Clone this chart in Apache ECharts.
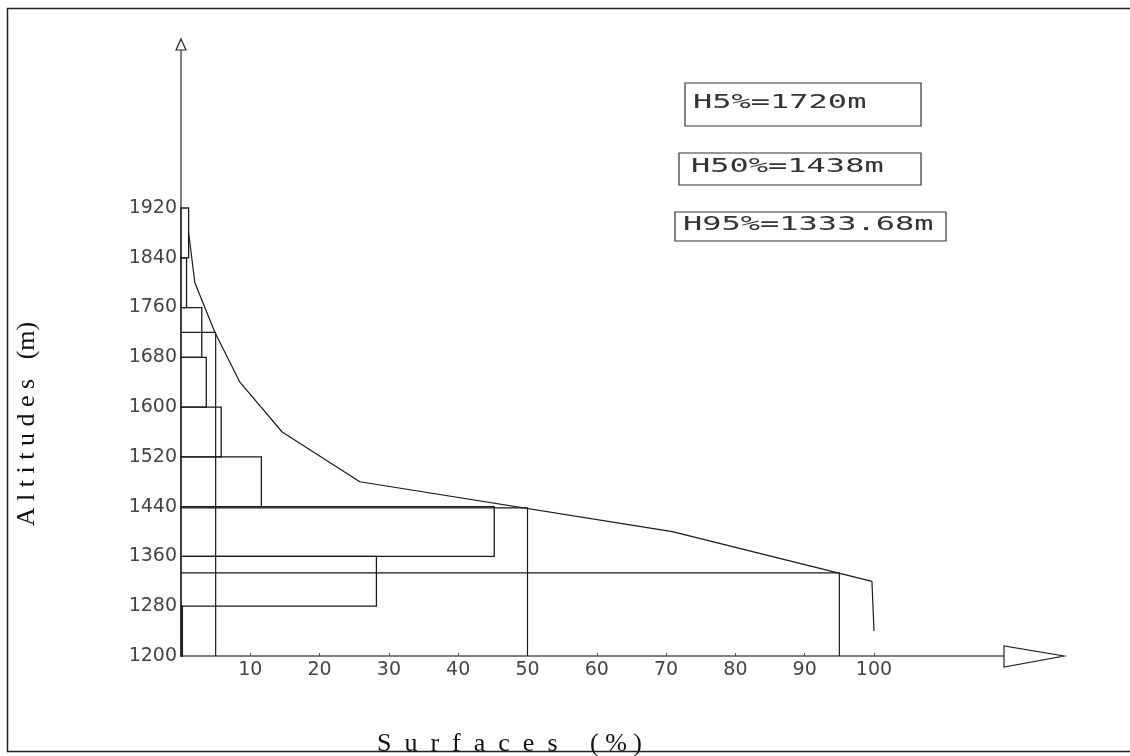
<!DOCTYPE html>
<html>
<head>
<meta charset="utf-8">
<title>Courbe hypsométrique</title>
<script src="https://cdn.jsdelivr.net/npm/echarts@6/dist/echarts.min.js"></script>
<style>
  html, body { margin: 0; padding: 0; background: #fff; }
  #main { width: 1130px; height: 756px; }
</style>
</head>
<body>
<div id="main"></div>
<script>
// tranches d'altitude (bas de chaque tranche) et surface en %
var binLow = [1200, 1280, 1360, 1440, 1520, 1600, 1680, 1760, 1840];
var binStep = 80;
var binPct = [0.2, 28.2, 45.2, 11.6, 5.8, 3.65, 3.0, 0.8, 1.1];

// courbe hypsometrique (surface cumulee)
var curveAlt = [1880, 1800, 1720, 1640, 1560, 1480, 1400, 1320, 1240];
var curvePct = [1.1, 2.0, 4.9, 8.5, 14.6, 25.8, 70.9, 99.7, 100];

// altitudes caracteristiques
var refPct = [5, 50, 95];
var refAlt = [1720, 1438, 1333.68];

var yMin = 1200, yMax = 1920;
var xMin = 0, xMax = 100;

var barData = binLow.map(function (lo, i) {
  return [lo, lo + binStep, binPct[i]];
});
var curveData = curveAlt.map(function (a, i) { return [curvePct[i], a]; });

var ink = '#1a1a1a';
var labelFont = 'DejaVu Sans';

var refSeries = refPct.map(function (p, i) {
  return {
    type: 'line',
    symbol: 'none',
    silent: true,
    data: [[xMin, refAlt[i]], [p, refAlt[i]], [p, yMin]],
    lineStyle: { color: ink, width: 1.2 }
  };
});

var myChart = echarts.init(document.getElementById('main'));

myChart.setOption({
  animation: false,
  backgroundColor: '#fff',
  grid: { left: 181, top: 208, right: 256, bottom: 100 },
  xAxis: {
    type: 'value',
    min: xMin,
    max: xMax,
    interval: 10,
    splitLine: { show: false },
    axisLine: { lineStyle: { color: '#555', width: 1.5 } },
    axisTick: { inside: true, length: 3, lineStyle: { color: '#555' } },
    axisLabel: {
      margin: 5,
      fontFamily: labelFont,
      fontSize: 19,
      color: '#444',
      formatter: function (v) { return v === 0 ? '' : String(v); }
    }
  },
  yAxis: {
    type: 'value',
    min: yMin,
    max: yMax,
    interval: 80,
    splitLine: { show: false },
    axisLine: { lineStyle: { color: '#555', width: 1.5 } },
    axisTick: { show: false },
    axisLabel: {
      margin: 4,
      fontFamily: labelFont,
      fontSize: 19,
      color: '#444',
      formatter: function (v) { return String(v); }
    }
  },
  series: [
    {
      // histogramme horizontal
      type: 'custom',
      silent: true,
      data: barData,
      encode: { x: 2, y: [0, 1] },
      renderItem: function (params, api) {
        var p0 = api.coord([0, api.value(1)]);
        var p1 = api.coord([api.value(2), api.value(0)]);
        return {
          type: 'rect',
          shape: { x: p0[0], y: p0[1], width: p1[0] - p0[0], height: p1[1] - p0[1] },
          style: { fill: 'none', stroke: ink, lineWidth: 1.3 }
        };
      }
    },
    {
      type: 'line',
      symbol: 'none',
      silent: true,
      data: curveData,
      lineStyle: { color: ink, width: 1.2 }
    }
  ].concat(refSeries)
});

// fleches des axes, cadre, titres et encadres
var o = myChart.convertToPixel({ gridIndex: 0 }, [xMin, yMin]);
var e = myChart.convertToPixel({ gridIndex: 0 }, [xMax, yMax]);

var boxes = [
  { x: 685, y: 83, w: 236, h: 43, tx: 693, ty: 103 },
  { x: 679, y: 153, w: 242, h: 32, tx: 691, ty: 167 },
  { x: 675, y: 212, w: 271, h: 29, tx: 683, ty: 225 }
];
var boxGraphics = [];
boxes.forEach(function (b, i) {
  boxGraphics.push({
    type: 'rect',
    shape: { x: b.x, y: b.y, width: b.w, height: b.h },
    style: { fill: '#fff', stroke: '#333', lineWidth: 1.2 }
  });
  boxGraphics.push({
    type: 'text',
    x: b.tx,
    y: b.ty,
    scaleX: 1.6,
    style: {
      text: 'H' + refPct[i] + '%=' + refAlt[i] + 'm',
      fontFamily: 'DejaVu Sans Mono',
      fontSize: 20,
      fill: '#333',
      align: 'left',
      verticalAlign: 'middle'
    }
  });
});

myChart.setOption({
  graphic: [
    {
      type: 'rect',
      silent: true,
      shape: { x: 7.5, y: 8.5, width: 1200, height: 743 },
      style: { fill: 'none', stroke: '#222', lineWidth: 1.5 }
    },
    {
      type: 'line',
      shape: { x1: o[0], y1: e[1], x2: o[0], y2: 50 },
      style: { stroke: '#555', lineWidth: 1.5 }
    },
    {
      type: 'polygon',
      shape: { points: [[o[0] - 5, 50], [o[0] + 5, 50], [o[0], 39]] },
      style: { fill: '#fff', stroke: '#222', lineWidth: 1.2 }
    },
    {
      type: 'line',
      shape: { x1: e[0], y1: o[1], x2: 1004, y2: o[1] },
      style: { stroke: '#555', lineWidth: 1.5 }
    },
    {
      type: 'polygon',
      shape: { points: [[1004, o[1] - 10], [1004, o[1] + 11], [1064, o[1]]] },
      style: { fill: '#fff', stroke: '#222', lineWidth: 1.2 }
    },
    {
      type: 'text',
      x: 27,
      y: 424,
      rotation: Math.PI / 2,
      style: {
        text: 'A l t i t u d e s   (m)',
        fontFamily: 'Liberation Serif',
        fontSize: 26,
        fill: '#111',
        align: 'center',
        verticalAlign: 'middle'
      }
    },
    {
      type: 'text',
      x: 377,
      y: 744,
      style: {
        text: 'S  u  r  f  a  c  e  s     ( % )',
        fontFamily: 'Liberation Serif',
        fontSize: 26,
        fill: '#111',
        align: 'left',
        verticalAlign: 'middle'
      }
    }
  ].concat(boxGraphics)
});
</script>
</body>
</html>
